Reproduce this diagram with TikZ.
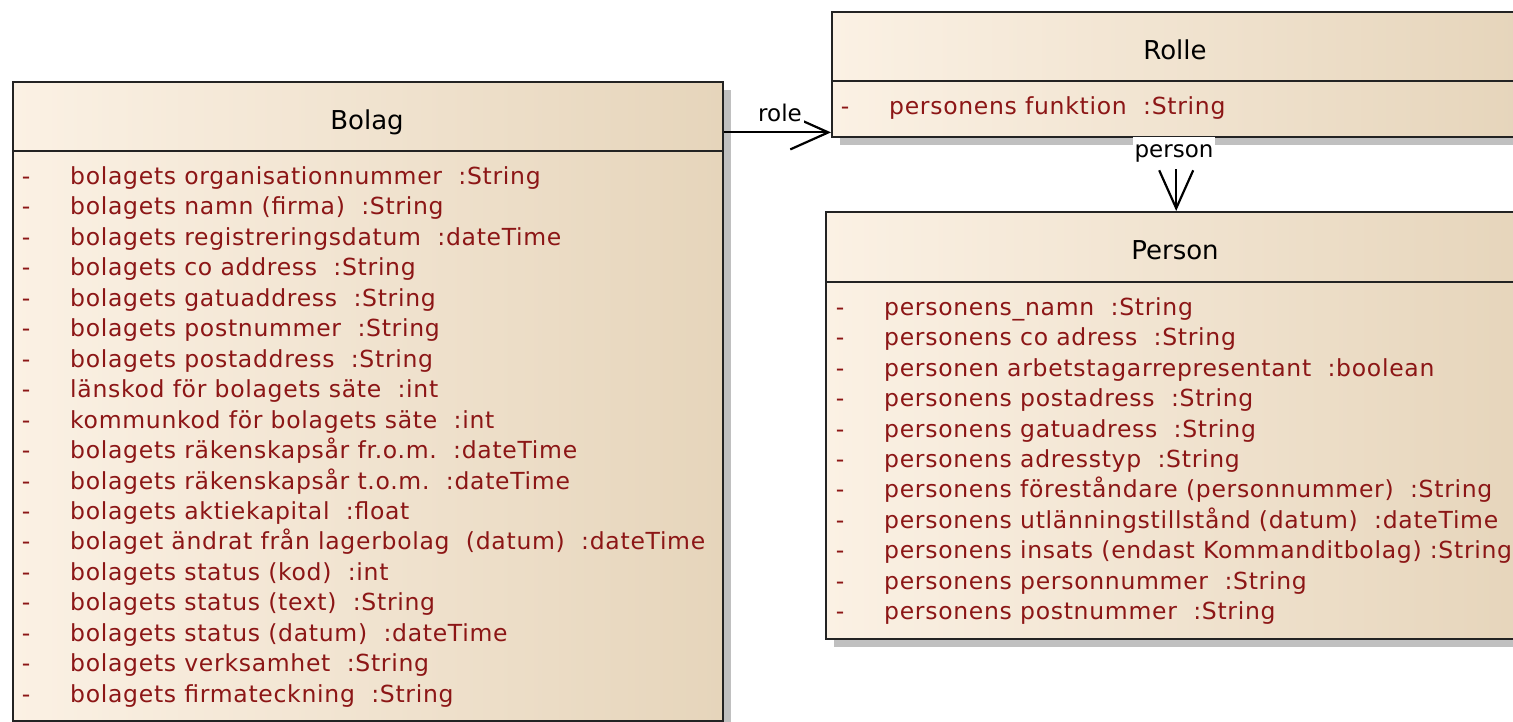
\documentclass[tikz,border=0pt]{standalone}
\usepackage{fontspec}
\setmainfont{DejaVu Sans}
\newfontfamily\attrfont[LetterSpace=3]{DejaVu Sans}
\usetikzlibrary{arrows.meta,shadows}
\definecolor{umlL}{RGB}{251,241,228}
\definecolor{umlR}{RGB}{230,213,187}
\definecolor{attrc}{RGB}{140,22,22}
\definecolor{bord}{RGB}{35,35,35}
\definecolor{shad}{RGB}{192,192,192}
\tikzset{
 umlbox/.style={draw=bord, line width=2.4pt, left color=umlL, right color=umlR, rectangle, inner sep=0pt,
   general shadow={fill=shad, shadow xshift=8pt, shadow yshift=-8pt}},
 hdrbox/.style={draw=bord, line width=2.4pt, rectangle, inner sep=0pt},
 title/.style={font=\fontsize{26}{26}\selectfont, text=black, inner sep=0pt, anchor=base},
 attr/.style={font=\attrfont\fontsize{23.5}{23.5}\selectfont, text=attrc, inner sep=0pt, anchor=base west},
 dashmark/.style={font=\fontsize{23.5}{23.5}\selectfont, text=attrc, inner sep=0pt, anchor=base},
 lbl/.style={font=\fontsize{23}{23}\selectfont, fill=white, inner sep=2pt, text=black},
 assoc/.style={draw=black, line width=2.2pt, -{Straight Barb[length=38pt,width=34pt,line width=2.2pt]}}
}
\begin{document}
\begin{tikzpicture}[x=1pt,y=-1pt]
\useasboundingbox (0,0) rectangle (1513,722);
\clip (0,0) rectangle (1513,722);
% Bolag
\node[umlbox, anchor=north west, minimum width=710pt, minimum height=639pt] (bolag) at (12,81) {};
\node[hdrbox, anchor=north west, minimum width=710pt, minimum height=69pt] (bolagH) at (12,81) {};
\node[title] (bolagT) at (367,129.5) {Bolag};
\foreach \t [count=\i from 0] in {
bolagets organisationnummer~~:String,
bolagets namn (firma)~~:String,
bolagets registreringsdatum~~:dateTime,
bolagets co address~~:String,
bolagets gatuaddress~~:String,
bolagets postnummer~~:String,
bolagets postaddress~~:String,
länskod för bolagets säte~~:int,
kommunkod för bolagets säte~~:int,
bolagets räkenskapsår fr.o.m.~~:dateTime,
bolagets räkenskapsår t.o.m.~~:dateTime,
bolagets aktiekapital~~:float,
bolaget ändrat från lagerbolag~~(datum)~~:dateTime,
bolagets status (kod)~~:int,
bolagets status (text)~~:String,
bolagets status (datum)~~:dateTime,
bolagets verksamhet~~:String,
bolagets firmateckning~~:String}{
  \node[dashmark] (bd\i) at (26,184.5+30.45*\i) {-};
  \node[attr] (bt\i) at (70,184.5+30.45*\i) {\t};
}
% Rolle
\node[umlbox, anchor=north west, minimum width=688pt, minimum height=125pt] (rolle) at (831,11) {};
\node[hdrbox, anchor=north west, minimum width=688pt, minimum height=69pt] (rolleH) at (831,11) {};
\node[title] (rolleT) at (1175,59.5) {Rolle};
\node[dashmark] (rd0) at (845,114.5) {-};
\node[attr] (rt0) at (889,114.5) {personens funktion~~:String};
% Person
\node[umlbox, anchor=north west, minimum width=700pt, minimum height=427pt] (person) at (825,211) {};
\node[hdrbox, anchor=north west, minimum width=700pt, minimum height=70pt] (personH) at (825,211) {};
\node[title] (personT) at (1175,260) {Person};
\foreach \t [count=\i from 0] in {
personens\_namn~~:String,
personens co adress~~:String,
personen arbetstagarrepresentant~~:boolean,
personens postadress~~:String,
personens gatuadress~~:String,
personens adresstyp~~:String,
personens föreståndare (personnummer)~~:String,
personens utlänningstillstånd (datum)~~:dateTime,
personens insats (endast Kommanditbolag)~:String,
personens personnummer~~:String,
personens postnummer~~:String}{
  \node[dashmark] (pd\i) at (840,315.5+30.4*\i) {-};
  \node[attr] (pt\i) at (884,315.5+30.4*\i) {\t};
}
% connectors
\coordinate (rin) at ([yshift=6pt]rolle.south west);
\draw[assoc] (bolag.east |- rin) -- (rin);
\node[lbl] (rolelbl) at (780,113) {role};
\draw[assoc] (rolle.south) -- (person.north);
\node[lbl, minimum height=32pt] (perslbl) at (1174,153) {person};
\end{tikzpicture}
\end{document}
